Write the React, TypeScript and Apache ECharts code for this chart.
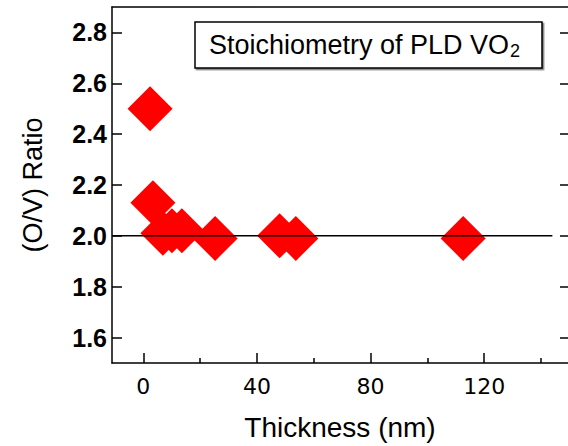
import React, { useEffect, useRef } from "react";
import * as echarts from "echarts";

// Data
const thicknessNm = [2.4, 3.4, 6.9, 10.1, 13.6, 25.3, 48, 53.7, 112.6];
const ovRatio = [2.5, 2.13, 2.01, 2.02, 2.02, 1.99, 2.0, 1.99, 1.99];
const xMajorTicks = [0, 40, 80, 120];
const xMinorTicks = [20, 60, 100, 140];
const yTicks = [1.6, 1.8, 2.0, 2.2, 2.4, 2.6, 2.8];
const stoichRef = 2.0;
const refLineStart = -11;
const refLineEnd = 144;

const X_MIN = -11;
const X_MAX = 149.5;
const Y_MIN = 1.5;
const Y_MAX = 2.9;

export default function App() {
  const ref = useRef<HTMLDivElement>(null);
  useEffect(() => {
    if (!ref.current) return;
    const chart = echarts.init(ref.current, null, { renderer: "svg" });
    const axisLine = { show: true, onZero: false, lineStyle: { color: "#000", width: 1.5 } };
    const option = {
      animation: false,
      backgroundColor: "#fff",
      grid: { left: 112, right: 0, top: 7, bottom: 82, containLabel: false },
      xAxis: [
        {
          type: "value",
          position: "bottom",
          min: X_MIN,
          max: X_MAX,
          name: "Thickness (nm)",
          nameLocation: "middle",
          nameGap: 50,
          nameTextStyle: { fontFamily: "Liberation Sans", fontSize: 28, color: "#000" },
          axisLine,
          axisTick: {
            show: true,
            inside: true,
            length: 10,
            customValues: xMajorTicks,
            lineStyle: { color: "#000", width: 1.5 },
          },
          axisLabel: {
            show: true,
            customValues: xMajorTicks,
            margin: 12,
            fontFamily: "DejaVu Sans",
            fontSize: 22,
            color: "#000",
          },
          splitLine: { show: false },
        },
        {
          type: "value",
          position: "bottom",
          min: X_MIN,
          max: X_MAX,
          axisLine: { show: false, onZero: false },
          axisTick: {
            show: true,
            inside: true,
            length: 5,
            customValues: xMinorTicks,
            lineStyle: { color: "#000", width: 1.5 },
          },
          axisLabel: { show: false },
          splitLine: { show: false },
        },
        {
          type: "value",
          position: "top",
          min: X_MIN,
          max: X_MAX,
          axisLine,
          axisTick: { show: false },
          axisLabel: { show: false },
          splitLine: { show: false },
        },
      ],
      yAxis: [
        {
          type: "value",
          position: "left",
          min: Y_MIN,
          max: Y_MAX,
          name: "(O/V) Ratio",
          nameLocation: "middle",
          nameGap: 66,
          nameRotate: 90,
          nameTextStyle: { fontFamily: "Liberation Sans", fontSize: 27, color: "#000" },
          axisLine,
          axisTick: {
            show: true,
            inside: true,
            length: 10,
            customValues: yTicks,
            lineStyle: { color: "#000", width: 1.5 },
          },
          axisLabel: {
            show: true,
            customValues: yTicks,
            margin: 5,
            fontFamily: "Liberation Sans",
            fontWeight: "bold",
            fontSize: 25,
            color: "#000",
            formatter: (v: number) => v.toFixed(1),
          },
          splitLine: { show: false },
        },
        {
          type: "value",
          position: "right",
          min: Y_MIN,
          max: Y_MAX,
          axisLine: { show: false, onZero: false },
          axisTick: {
            show: true,
            inside: true,
            length: 8,
            customValues: yTicks,
            lineStyle: { color: "#000", width: 1.5 },
          },
          axisLabel: { show: false },
          splitLine: { show: false },
        },
      ],
      series: [
        {
          type: "scatter",
          xAxisIndex: 0,
          yAxisIndex: 0,
          symbol: "diamond",
          symbolSize: 45,
          itemStyle: { color: "#ff0000", opacity: 1 },
          data: thicknessNm.map((x, i) => [x, ovRatio[i]]),
          z: 2,
        },
        {
          type: "line",
          xAxisIndex: 0,
          yAxisIndex: 0,
          showSymbol: false,
          symbol: "none",
          lineStyle: { color: "#000", width: 1.5 },
          data: [
            [refLineStart, stoichRef],
            [refLineEnd, stoichRef],
          ],
          z: 3,
        },
      ],
      graphic: [
        {
          type: "rect",
          shape: { x: 195, y: 22, width: 347, height: 46 },
          style: { fill: "#fff", stroke: "#000", lineWidth: 1.5, shadowColor: "rgba(0,0,0,0.5)", shadowOffsetX: 1.5, shadowOffsetY: 1.5, shadowBlur: 0 },
          z: 10,
        },
        {
          type: "text",
          x: 209,
          y: 45,
          style: {
            text: "{a|Stoichiometry of PLD VO}{s|2}",
            verticalAlign: "middle",
            rich: {
              a: { fontFamily: "Liberation Sans", fontSize: 27, fill: "#000", lineHeight: 30, verticalAlign: "middle" },
              s: { fontFamily: "Liberation Sans", fontSize: 18, fill: "#000", lineHeight: 30, verticalAlign: "bottom", padding: [14, 0, 0, 1] },
            },
          },
          z: 11,
        },
      ],
    };
    chart.setOption(option as any);
    return () => chart.dispose();
  }, []);
  return (
    <div
      ref={ref}
      style={{ position: "fixed", left: 0, top: 0, width: 568, height: 446 }}
    />
  );
}
